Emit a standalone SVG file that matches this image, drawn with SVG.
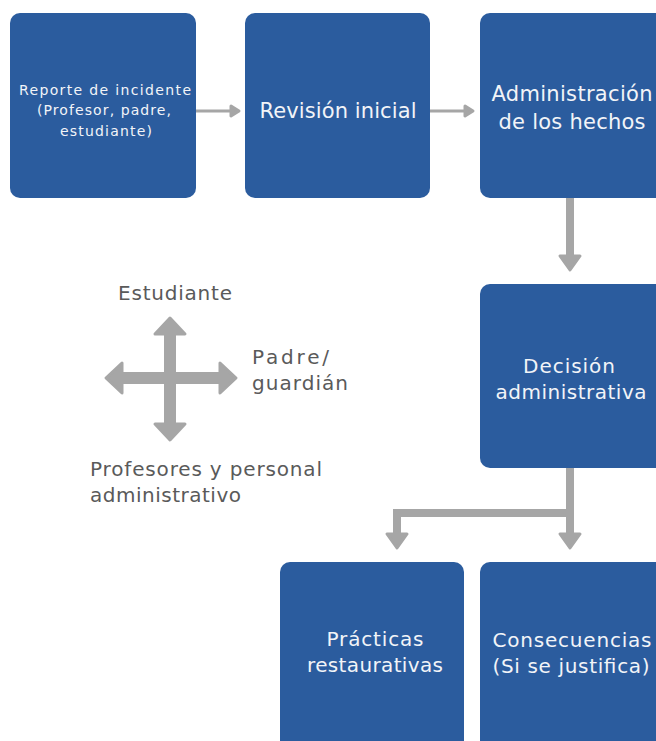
<svg xmlns="http://www.w3.org/2000/svg" width="656" height="741" viewBox="0 0 656 741">
<style>
.box{fill:#2B5C9E;}
.bt{fill:#F2F4F8;font-family:"DejaVu Sans","Noto Sans",sans-serif;text-anchor:middle;}
.lt{fill:#5A5A5A;font-family:"DejaVu Sans","Noto Sans",sans-serif;font-size:20px;}
.thin{stroke:#A6A6A6;stroke-width:3;fill:none;}
.thick{stroke:#A6A6A6;stroke-width:8;fill:none;}
.head{fill:#A6A6A6;stroke:#A6A6A6;stroke-width:3;stroke-linejoin:round;}
</style>
<rect width="656" height="741" fill="#FFFFFF"/>
<g id="connectors">
<line class="thin" x1="196" y1="111" x2="232" y2="111"/>
<polygon class="head" points="231,106 239,111 231,116"/>
<line class="thin" x1="430" y1="111" x2="466" y2="111"/>
<polygon class="head" points="465,106 473,111 465,116"/>
<line class="thick" x1="570" y1="198" x2="570" y2="256"/>
<polygon class="head" points="560,256 580,256 570,270"/>
<path class="thick" d="M570,468 V534 M570,513 H397 V534"/>
<polygon class="head" points="560,534 580,534 570,548"/>
<polygon class="head" points="387,534 407,534 397,548"/>
</g>
<g id="cross">
<path d="M170,330 V430 M118,378 H222" stroke="#A6A6A6" stroke-width="12" fill="none"/>
<polygon class="head" points="170,318 185,334 155,334"/>
<polygon class="head" points="170,440 185,424 155,424"/>
<polygon class="head" points="106,378 122,363 122,393"/>
<polygon class="head" points="236,378 220,363 220,393"/>
</g>
<g id="n1"><rect class="box" x="10" y="13" width="186" height="185" rx="10"/>
<text class="bt" font-size="14" x="105" y="95" textLength="172" lengthAdjust="spacing">Reporte de incidente</text>
<text class="bt" font-size="14" x="104" y="115" textLength="134" lengthAdjust="spacing">(Profesor, padre,</text>
<text class="bt" font-size="14" x="106" y="136" textLength="92" lengthAdjust="spacing">estudiante)</text></g>
<g id="n2"><rect class="box" x="245" y="13" width="185" height="185" rx="10"/>
<text class="bt" font-size="21" x="338" y="118" textLength="157" lengthAdjust="spacing">Revisión inicial</text></g>
<g id="n3"><rect class="box" x="480" y="13" width="186" height="185" rx="10"/>
<text class="bt" font-size="21" x="572" y="101" textLength="161" lengthAdjust="spacing">Administración</text>
<text class="bt" font-size="21" x="572" y="129" textLength="147" lengthAdjust="spacing">de los hechos</text></g>
<g id="n4"><rect class="box" x="480" y="284" width="186" height="184" rx="10"/>
<text class="bt" font-size="20" x="569" y="373" textLength="92" lengthAdjust="spacing">Decisión</text>
<text class="bt" font-size="20" x="571" y="399" textLength="151" lengthAdjust="spacing">administrativa</text></g>
<g id="n5"><rect class="box" x="280" y="562" width="184" height="190" rx="10"/>
<text class="bt" font-size="20" x="375" y="646" textLength="97" lengthAdjust="spacing">Prácticas</text>
<text class="bt" font-size="20" x="375" y="672" textLength="136" lengthAdjust="spacing">restaurativas</text></g>
<g id="n6"><rect class="box" x="480" y="562" width="186" height="190" rx="10"/>
<text class="bt" font-size="20" x="572" y="647" textLength="159" lengthAdjust="spacing">Consecuencias</text>
<text class="bt" font-size="20" x="571" y="673" textLength="157" lengthAdjust="spacing">(Si se justifica)</text></g>
<g id="labels">
<text class="lt" x="118" y="300" textLength="114" lengthAdjust="spacing">Estudiante</text>
<text class="lt" x="252" y="364" textLength="77" lengthAdjust="spacing">Padre/</text>
<text class="lt" x="252" y="390" textLength="96" lengthAdjust="spacing">guardián</text>
<text class="lt" x="90" y="476" textLength="232" lengthAdjust="spacing">Profesores y personal</text>
<text class="lt" x="90" y="502" textLength="151" lengthAdjust="spacing">administrativo</text>
</g>
</svg>
